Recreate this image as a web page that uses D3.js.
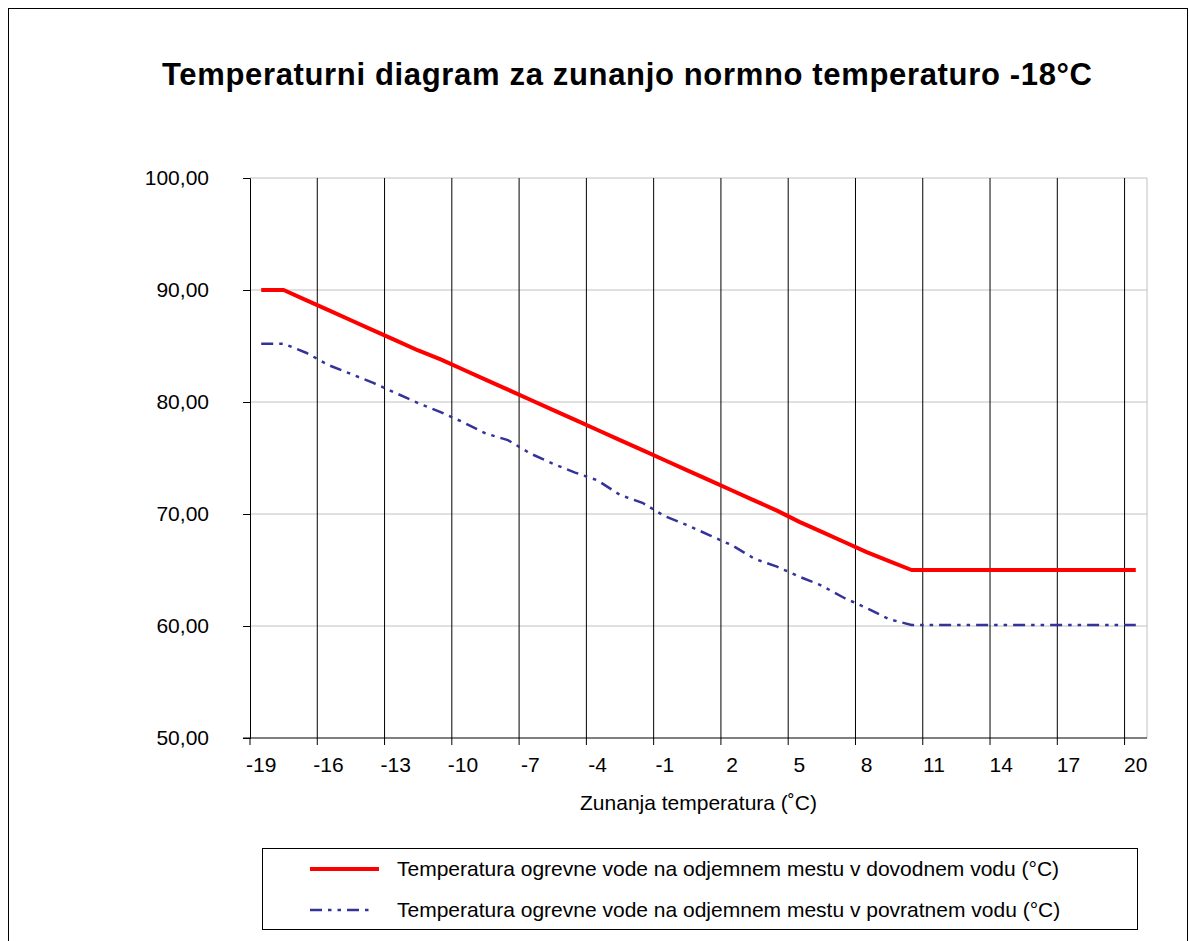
<!DOCTYPE html>
<html>
<head>
<meta charset="utf-8">
<script src="https://cdn.jsdelivr.net/npm/d3@7"></script>
<style>
html,body{margin:0;padding:0;background:#fff;}
svg{display:block;font-family:"Liberation Sans",Arial,sans-serif;}
</style>
</head>
<body>
<svg id="chart" width="1189" height="941"></svg>
<script>
// ---- data ----
const categories = [-19,-18,-17,-16,-15,-14,-13,-12,-11,-10,-9,-8,-7,-6,-5,-4,-3,-2,-1,0,1,2,3,4,5,6,7,8,9,10,11,12,13,14,15,16,17,18,19,20];
const supplyTemp = [90.0,90.0,89.1,88.2,87.3,86.4,85.5,84.6,83.8,82.9,82.0,81.1,80.2,79.3,78.4,77.5,76.6,75.7,74.8,73.9,73.0,72.1,71.2,70.3,69.3,68.4,67.5,66.6,65.8,65.0,65.0,65.0,65.0,65.0,65.0,65.0,65.0,65.0,65.0,65.0];
const returnTemp = [85.2,85.2,84.4,83.3,82.5,81.7,80.8,79.9,79.1,78.2,77.2,76.6,75.4,74.5,73.7,73.0,71.7,71.0,69.8,69.0,68.1,67.2,66.0,65.3,64.4,63.6,62.5,61.6,60.6,60.1,60.1,60.1,60.1,60.1,60.1,60.1,60.1,60.1,60.1,60.1];
const xTickLabels = [-19,-16,-13,-10,-7,-4,-1,2,5,8,11,14,17,20];
const yTicks = [50,60,70,80,90,100];
const titleText = "Temperaturni diagram za zunanjo normno temperaturo -18°C";
const xAxisTitle = "Zunanja temperatura (˚C)";
const seriesNames = [
  "Temperatura ogrevne vode na odjemnem mestu v dovodnem vodu (°C)",
  "Temperatura ogrevne vode na odjemnem mestu v povratnem vodu (°C)"
];

// ---- layout ----
const svg = d3.select("#chart");
const L = 250, R = 1147, T = 178, B = 738;
const FS = 21;

svg.append("rect").attr("x",8.5).attr("y",8.5).attr("width",1179).attr("height",1000)
  .attr("fill","#fff").attr("stroke","#000").attr("stroke-width",1);

const x = d3.scaleBand().domain(categories).range([L, R]).padding(0);
const bw = x.bandwidth();
const cx = d => x(d) + bw/2;
const y = d3.scaleLinear().domain([50,100]).range([B, T]);

// title
svg.append("text").attr("x", 627).attr("y", 85).attr("text-anchor","middle")
  .attr("font-size", 31).attr("font-weight","bold")
  .attr("textLength", 930).attr("lengthAdjust","spacing")
  .text(titleText);

// horizontal gridlines
svg.append("g").selectAll("line").data(yTicks.filter(v => v !== 50)).join("line")
  .attr("x1", L).attr("x2", R).attr("y1", d => y(d)).attr("y2", d => y(d))
  .attr("stroke","#c0c0c0").attr("stroke-width",1);

// plot right border
svg.append("line").attr("x1",R).attr("x2",R).attr("y1",T).attr("y2",B)
  .attr("stroke","#c0c0c0").attr("stroke-width",1);

// vertical gridlines at category boundaries every 3 categories
const boundaryCats = categories.filter((c,i) => i % 3 === 0);
svg.append("g").selectAll("line").data(boundaryCats.filter((c,i)=>i>0)).join("line")
  .attr("x1", d => x(d)).attr("x2", d => x(d)).attr("y1", T).attr("y2", B)
  .attr("stroke","#000").attr("stroke-width",1);

// x tick marks (boundaries)
svg.append("g").selectAll("line").data(boundaryCats).join("line")
  .attr("x1", d => x(d)).attr("x2", d => x(d)).attr("y1", B).attr("y2", B+7)
  .attr("stroke","#000").attr("stroke-width",1);

// y axis
const yAxis = d3.axisLeft(y).tickValues(yTicks).tickSize(7).tickPadding(34)
  .tickFormat(d => d.toFixed(2).replace(".", ","));
const gy = svg.append("g").attr("transform", `translate(${L},0)`).call(yAxis);
gy.select(".domain").attr("stroke","#000");
gy.selectAll(".tick line").attr("stroke","#000");
gy.selectAll("text").attr("font-size", FS).attr("font-family","Liberation Sans, Arial, sans-serif").attr("fill","#000");

// x axis
const xAxis = d3.axisBottom(x).tickValues(xTickLabels).tickSize(0).tickPadding(19);
const gx = svg.append("g").attr("transform", `translate(0,${B})`).call(xAxis);
gx.select(".domain").attr("d", `M${L-7},0H${R}`).attr("stroke","#000");
gx.selectAll("text").attr("font-size", FS).attr("font-family","Liberation Sans, Arial, sans-serif").attr("fill","#000");

// axis title
svg.append("text").attr("x", (L+R)/2).attr("y", 810).attr("text-anchor","middle")
  .attr("font-size", FS).text(xAxisTitle);

// lines
const line = d3.line().x((d,i) => cx(categories[i])).y(d => y(d));
svg.append("path").datum(returnTemp).attr("d", line).attr("fill","none")
  .attr("stroke","#333399").attr("stroke-width",2.5)
  .attr("stroke-dasharray","12,6,3.5,6,3.5,6");
svg.append("path").datum(supplyTemp).attr("d", line).attr("fill","none")
  .attr("stroke","#ff0000").attr("stroke-width",4).attr("stroke-linejoin","round");

// legend
svg.append("rect").attr("x",262.5).attr("y",848.5).attr("width",875).attr("height",81)
  .attr("fill","#fff").attr("stroke","#000").attr("stroke-width",1);
const legendRows = [
  {name: seriesNames[0], color:"#ff0000", w:4, dash:null, yy:869, x2:379},
  {name: seriesNames[1], color:"#333399", w:2.5, dash:"12,6,3.5,6,3.5,6", yy:910, x2:372}
];
legendRows.forEach(r => {
  svg.append("line").attr("x1",310).attr("x2",r.x2).attr("y1",r.yy).attr("y2",r.yy)
    .attr("stroke",r.color).attr("stroke-width",r.w).attr("stroke-dasharray",r.dash);
  svg.append("text").attr("x",397).attr("y",r.yy).attr("dy","0.35em")
    .attr("font-size",FS).text(r.name);
});
</script>
</body>
</html>
